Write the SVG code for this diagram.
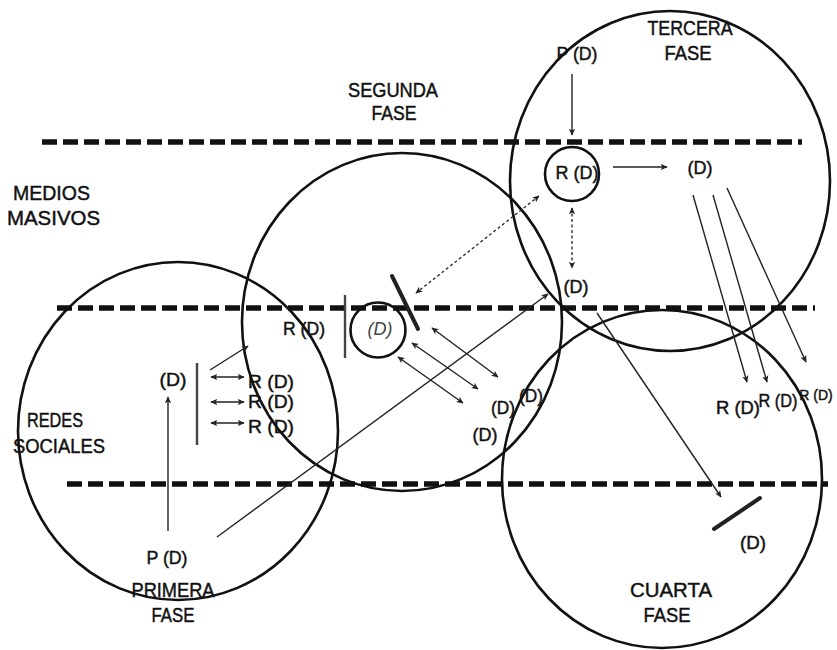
<svg xmlns="http://www.w3.org/2000/svg" width="837" height="650" viewBox="0 0 837 650">
<style>
text{font-family:"Liberation Sans",Arial,sans-serif;font-size:19px;fill:#111;stroke:#111;stroke-width:0.45;text-anchor:middle}
.t{font-size:20px}
.big{fill:none;stroke:#111;stroke-width:2.6}
.dash{fill:none;stroke:#111;stroke-width:5.5;stroke-dasharray:15 6}
.ar{fill:none;stroke:#222;stroke-width:1.4}
.dar{fill:none;stroke:#333;stroke-width:1.4;stroke-dasharray:3 2.5}
.bar{fill:none;stroke:#222;stroke-width:4;stroke-linecap:round}
.vl{fill:none;stroke:#444;stroke-width:2.4}
</style>
<defs>
<marker id="ah" viewBox="0 0 10 10" refX="9" refY="5" markerWidth="7" markerHeight="7" markerUnits="userSpaceOnUse" orient="auto-start-reverse">
<path d="M0,0.5 L10,5 L0,9.5 L2.5,5 z" fill="#222"/>
</marker>
</defs>
<rect width="837" height="650" fill="#fff"/>

<g id="levels">
<line class="dash" x1="42" y1="142" x2="802" y2="142"/>
<line class="dash" x1="57" y1="308" x2="815" y2="308"/>
<line class="dash" x1="67" y1="484" x2="828" y2="484"/>
</g>

<g id="level-labels">
<text class="t" x="13" y="200" textLength="77" lengthAdjust="spacingAndGlyphs" style="text-anchor:start">MEDIOS</text>
<text class="t" x="7" y="225" textLength="93" lengthAdjust="spacingAndGlyphs" style="text-anchor:start">MASIVOS</text>
<text class="t" x="55" y="427" textLength="56" lengthAdjust="spacingAndGlyphs">REDES</text>
<text class="t" x="59" y="453" textLength="92" lengthAdjust="spacingAndGlyphs">SOCIALES</text>
</g>

<g id="primera-fase">
<ellipse class="big" cx="178" cy="431" rx="160" ry="169"/>
<text class="t" x="173" y="597" textLength="83" lengthAdjust="spacingAndGlyphs">PRIMERA</text>
<text class="t" x="173" y="622" textLength="43" lengthAdjust="spacingAndGlyphs">FASE</text>
<text x="167" y="564" textLength="41" lengthAdjust="spacingAndGlyphs">P (D)</text>
<text x="173" y="386" textLength="27" lengthAdjust="spacingAndGlyphs">(D)</text>
<line class="vl" x1="197" y1="363" x2="197" y2="445"/>
<text x="271" y="388" textLength="46" lengthAdjust="spacingAndGlyphs">R (D)</text>
<text x="271" y="408" textLength="46" lengthAdjust="spacingAndGlyphs">R (D)</text>
<text x="271" y="433" textLength="46" lengthAdjust="spacingAndGlyphs">R (D)</text>
</g>

<g id="segunda-fase">
<ellipse class="big" cx="402" cy="322" rx="160" ry="169"/>
<text class="t" x="393" y="97" textLength="90" lengthAdjust="spacingAndGlyphs">SEGUNDA</text>
<text class="t" x="394" y="120" textLength="45" lengthAdjust="spacingAndGlyphs">FASE</text>
<text x="304" y="335" textLength="42" lengthAdjust="spacingAndGlyphs">R (D)</text>
<line class="vl" x1="345" y1="295" x2="345" y2="358"/>
<circle cx="378" cy="330" r="27.5" class="big"/>
<text x="380" y="335" textLength="25" lengthAdjust="spacingAndGlyphs" style="fill:#444;stroke:none;font-style:italic">(D)</text>
<line class="bar" x1="392" y1="276" x2="418" y2="329"/>
<text x="503" y="414" textLength="24" lengthAdjust="spacingAndGlyphs">(D)</text>
<text x="531" y="402" textLength="24" lengthAdjust="spacingAndGlyphs">(D)</text>
<text x="485" y="441" textLength="25" lengthAdjust="spacingAndGlyphs">(D)</text>
</g>

<g id="tercera-fase">
<ellipse class="big" cx="670" cy="181" rx="160" ry="170"/>
<text class="t" x="690" y="35" textLength="85" lengthAdjust="spacingAndGlyphs">TERCERA</text>
<text class="t" x="688" y="60" textLength="47" lengthAdjust="spacingAndGlyphs">FASE</text>
<text x="577" y="60" textLength="41" lengthAdjust="spacingAndGlyphs">P (D)</text>
<circle cx="572" cy="174" r="27" class="big"/>
<text x="577" y="179" textLength="43" lengthAdjust="spacingAndGlyphs">R (D)</text>
<text x="700" y="174" textLength="25" lengthAdjust="spacingAndGlyphs">(D)</text>
<text x="576" y="293" textLength="25" lengthAdjust="spacingAndGlyphs">(D)</text>
<text x="738" y="414" textLength="44" lengthAdjust="spacingAndGlyphs">R (D)</text>
<text x="778" y="407" textLength="39" lengthAdjust="spacingAndGlyphs">R (D)</text>
<text x="816" y="400" style="font-size:14px">R (D)</text>
</g>

<g id="cuarta-fase">
<ellipse class="big" cx="662" cy="479" rx="160" ry="169"/>
<text class="t" x="671" y="597" textLength="82" lengthAdjust="spacingAndGlyphs">CUARTA</text>
<text class="t" x="667" y="622" textLength="47" lengthAdjust="spacingAndGlyphs">FASE</text>
<line class="bar" x1="714" y1="529" x2="760" y2="498"/>
<text x="753" y="549" textLength="26" lengthAdjust="spacingAndGlyphs">(D)</text>
</g>

<g id="connectors">
<line class="ar" x1="168" y1="531" x2="168" y2="397" marker-end="url(#ah)"/>
<line class="ar" x1="210" y1="370" x2="248" y2="346" marker-end="url(#ah)"/>
<line class="ar" x1="211" y1="377" x2="244" y2="377" marker-start="url(#ah)" marker-end="url(#ah)"/>
<line class="ar" x1="211" y1="402" x2="244" y2="402" marker-start="url(#ah)" marker-end="url(#ah)"/>
<line class="ar" x1="211" y1="423" x2="244" y2="423" marker-start="url(#ah)" marker-end="url(#ah)"/>
<line class="ar" x1="217" y1="537" x2="548" y2="294" marker-end="url(#ah)"/>
<line class="ar" x1="432" y1="328" x2="498" y2="377" marker-start="url(#ah)" marker-end="url(#ah)"/>
<line class="ar" x1="412" y1="343" x2="478" y2="389" marker-start="url(#ah)" marker-end="url(#ah)"/>
<line class="ar" x1="398" y1="357" x2="463" y2="403" marker-start="url(#ah)" marker-end="url(#ah)"/>
<line class="dar" x1="539" y1="196" x2="416" y2="293" marker-start="url(#ah)" marker-end="url(#ah)"/>
<line class="dar" x1="572" y1="208" x2="572" y2="268" marker-start="url(#ah)" marker-end="url(#ah)"/>
<line class="ar" x1="572" y1="74" x2="572" y2="135" marker-end="url(#ah)"/>
<line class="ar" x1="613" y1="167" x2="667" y2="167" marker-end="url(#ah)"/>
<line class="ar" x1="693" y1="195" x2="747" y2="382" marker-end="url(#ah)"/>
<line class="ar" x1="713" y1="195" x2="767" y2="382" marker-end="url(#ah)"/>
<line class="ar" x1="727" y1="188" x2="806" y2="362" marker-end="url(#ah)"/>
<line class="ar" x1="597" y1="313" x2="721" y2="497" marker-end="url(#ah)"/>
</g>
</svg>
